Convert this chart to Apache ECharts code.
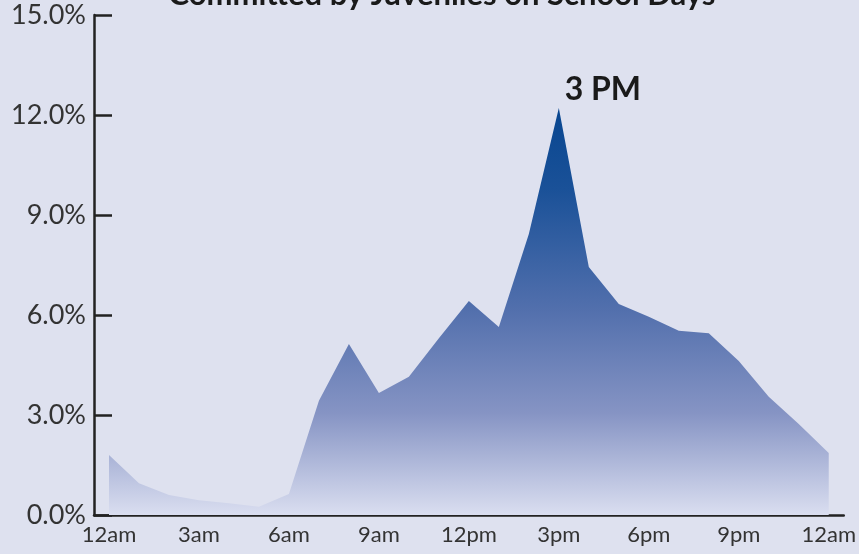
<!DOCTYPE html>
<html>
<head>
<meta charset="utf-8">
<script src="https://cdn.jsdelivr.net/npm/echarts@6/dist/echarts.min.js"></script>
<style>
  html, body { margin: 0; padding: 0; background: #dee1ef; }
  #chart { width: 859px; height: 554px; }
</style>
</head>
<body>
<div id="chart"></div>
<script>
// Hours of the school day, midnight to midnight
var hours = ['12am','1am','2am','3am','4am','5am','6am','7am','8am','9am','10am','11am',
             '12pm','1pm','2pm','3pm','4pm','5pm','6pm','7pm','8pm','9pm','10pm','11pm','12am'];
// Share of juvenile violent crime committed in each hour (%)
var share = [1.8, 0.95, 0.6, 0.44, 0.35, 0.25, 0.63, 3.43, 5.13, 3.66, 4.15, 5.3,
             6.42, 5.64, 8.43, 12.21, 7.44, 6.33, 5.95, 5.53, 5.45, 4.62, 3.55, 2.73, 1.86];
var yTicks = [0, 3, 6, 9, 12, 15];
var peakIndex = 15;
var peakLabel = '3 PM';
var titleText = 'Committed by Juveniles on School Days';

var chart = echarts.init(document.getElementById('chart'), null, { renderer: 'canvas' });

chart.setOption({
  backgroundColor: '#dee1ef',
  animation: false,
  graphic: [{
    type: 'text',
    x: 442,
    y: -5,
    style: {
      text: titleText,
      textAlign: 'center',
      textVerticalAlign: 'middle',
      fill: '#1a1a1a',
      font: 'bold 31px Lato'
    }
  }],
  grid: { left: 94, right: 15, top: 15, bottom: 39 },
  xAxis: {
    type: 'category',
    data: hours,
    boundaryGap: true,
    axisLine: { show: true, lineStyle: { color: '#222', width: 2.5 } },
    axisTick: { show: false },
    axisLabel: {
      interval: 2,
      color: '#333',
      fontSize: 22,
      fontFamily: 'Lato',
      margin: 9
    },
    splitLine: { show: false }
  },
  yAxis: {
    type: 'value',
    min: yTicks[0],
    max: yTicks[yTicks.length - 1],
    interval: 3,
    axisLine: { show: true, lineStyle: { color: '#222', width: 2.5 } },
    axisTick: { show: true, inside: true, length: 18, lineStyle: { color: '#222', width: 2.5 } },
    axisLabel: {
      color: '#333',
      fontSize: 27,
      fontFamily: 'Lato',
      margin: 8,
      formatter: function (v) { return v.toFixed(1) + '%'; }
    },
    splitLine: { show: false }
  },
  series: [{
    type: 'line',
    data: share,
    symbol: 'none',
    lineStyle: { width: 0 },
    areaStyle: {
      opacity: 1,
      color: new echarts.graphic.LinearGradient(0, 0, 0, 1, [
        { offset: 0, color: '#084690' },
        { offset: 0.2, color: '#1a5198' },
        { offset: 0.5, color: '#5370ad' },
        { offset: 0.75, color: '#8694c4' },
        { offset: 1, color: '#dadef0' }
      ])
    },
    markPoint: {
      silent: true,
      symbol: 'circle',
      symbolSize: 0,
      data: [{
        coord: [peakIndex, share[peakIndex]],
        label: {
          show: true,
          position: 'top',
          distance: 0,
          offset: [44, -2],
          formatter: peakLabel,
          color: '#1a1a1a',
          fontSize: 32,
          fontWeight: 'bold',
          fontFamily: 'Lato'
        }
      }]
    },
    z: 1
  }]
});
</script>
</body>
</html>
